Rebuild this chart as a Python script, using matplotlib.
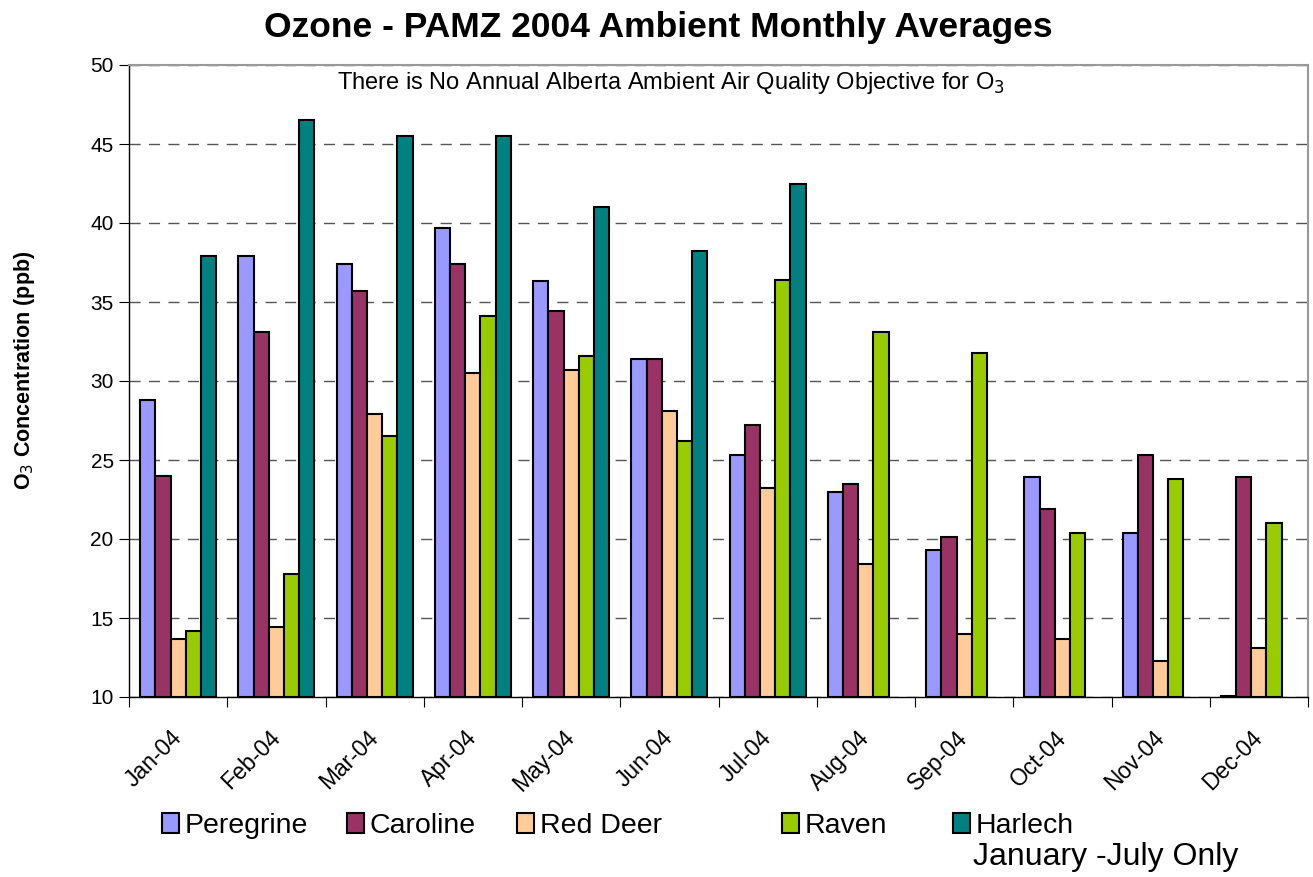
import numpy as np
import matplotlib
matplotlib.use("Agg")
import matplotlib.pyplot as plt
import matplotlib.transforms as mtransforms
from matplotlib.patches import Patch

plt.rcParams['font.family'] = ['Liberation Sans', 'DejaVu Sans']

months = ['Jan-04', 'Feb-04', 'Mar-04', 'Apr-04', 'May-04', 'Jun-04',
          'Jul-04', 'Aug-04', 'Sep-04', 'Oct-04', 'Nov-04', 'Dec-04']
stations = ['Peregrine', 'Caroline', 'Red Deer', 'Raven', 'Harlech']
colors = ['#9999ff', '#993366', '#ffcc99', '#99cc00', '#008080']

peregrine = [28.8, 37.9, 37.4, 39.7, 36.3, 31.4, 25.3, 23.0, 19.3, 23.9, 20.4, 10.05]
caroline = [24.0, 33.1, 35.7, 37.4, 34.4, 31.4, 27.2, 23.5, 20.1, 21.9, 25.3, 23.9]
red_deer = [13.7, 14.4, 27.9, 30.5, 30.7, 28.1, 23.2, 18.4, 14.0, 13.7, 12.3, 13.1]
raven = [14.2, 17.8, 26.5, 34.1, 31.6, 26.2, 36.4, 33.1, 31.8, 20.4, 23.8, 21.0]
harlech = [37.9, 46.5, 45.5, 45.5, 41.0, 38.2, 42.5, np.nan, np.nan, np.nan, np.nan, np.nan]
series = [peregrine, caroline, red_deer, raven, harlech]

W, H = 1313, 877
fig = plt.figure(figsize=(W / 100, H / 100), dpi=100)
ax = fig.add_axes([129 / W, 1 - 697 / H, 1179 / W, 632 / H])

x = np.arange(len(months))
w = 0.155
for i, (vals, c) in enumerate(zip(series, colors)):
    v = np.array(vals, dtype=float)
    ax.bar(x + (i - 2) * w, v - 10, bottom=10, width=w, color=c,
           edgecolor='black', linewidth=1.5, zorder=3)

ax.set_xlim(-0.5, 11.5)
ax.set_ylim(10, 50)
ax.set_yticks(np.arange(10, 51, 5))
ax.set_xticks(np.arange(-0.5, 12, 1))
ax.set_xticklabels([])
ax.set_xticks(x, minor=True)
ax.set_xticklabels(months, minor=True, rotation=45, ha='right',
                   rotation_mode='anchor', fontsize=16.5)
ax.tick_params(axis='x', which='minor', length=0, pad=21)
ax.tick_params(axis='x', which='major', length=7, direction='out')
ax.tick_params(axis='y', labelsize=15, length=7, pad=4)
# nudge month labels a little left, as in the original
shift = mtransforms.ScaledTranslation(-8 / 100, 0, fig.dpi_scale_trans)
for lbl in ax.get_xticklabels(minor=True):
    lbl.set_transform(lbl.get_transform() + shift)
ax.yaxis.grid(True, linestyle=(0, (8, 6)), color='#555555', linewidth=1, zorder=0)
ax.set_axisbelow(True)

for s in ['top', 'right']:
    ax.spines[s].set_color('#999999')
    ax.spines[s].set_linewidth(1.5)
for s in ['left', 'bottom']:
    ax.spines[s].set_color('black')
    ax.spines[s].set_linewidth(1)

ax.text(0.46, 0.992, 'There is No Annual Alberta Ambient Air Quality Objective for O$_3$',
        transform=ax.transAxes, ha='center', va='top', fontsize=17)

fig.text(0.501, 0.969, 'Ozone - PAMZ 2004 Ambient Monthly Averages',
         ha='center', va='center', fontsize=25.5, fontweight='bold')
fig.text(0.019, 0.578, 'O$_3$ Concentration (ppb)', rotation=90,
         ha='center', va='center', fontsize=15.5, fontweight='bold')

# legend entries placed one by one, like the original's uneven spacing
leg_x = [162, 347, 517, 782, 953]
for name, c, lx in zip(stations, colors, leg_x):
    leg = fig.legend([Patch(facecolor=c, edgecolor='black', linewidth=1.5)], [name],
                     loc='center left', bbox_to_anchor=(lx / W, 1 - 826 / H),
                     frameon=False, fontsize=20.5, handlelength=0.6,
                     handleheight=0.7, handletextpad=0.2, borderpad=0,
                     borderaxespad=0)
fig.text(973 / W, 1 - 857 / H, 'January -July Only', ha='left', va='center', fontsize=23)

fig.savefig('out.png', dpi=100)
